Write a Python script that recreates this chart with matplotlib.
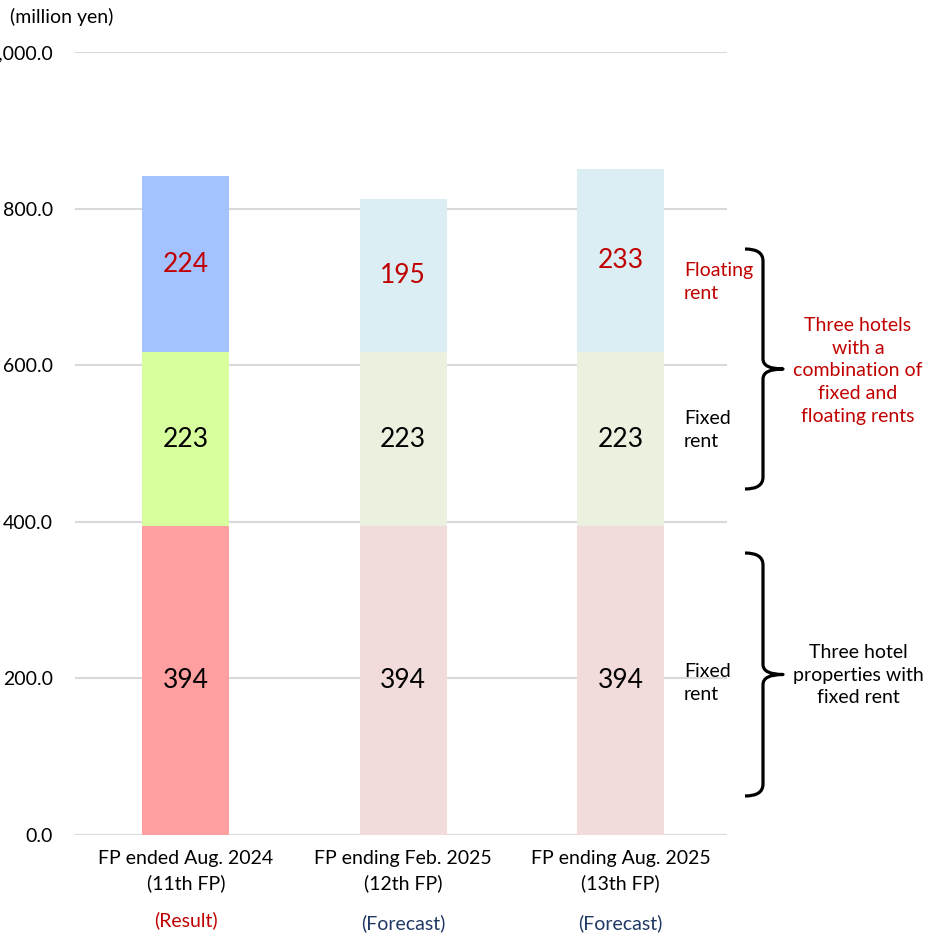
import numpy as np
from matplotlib import pyplot as plt
from matplotlib.path import Path
from matplotlib.patches import PathPatch

# data
periods = ["FP ended Aug. 2024\n(11th FP)", "FP ending Feb. 2025\n(12th FP)", "FP ending Aug. 2025\n(13th FP)"]
status = ["(Result)", "(Forecast)", "(Forecast)"]
fixed_only = [394, 394, 394]      # three hotels with fixed rent
fixed_combo = [223, 223, 223]     # fixed part of combination hotels
floating = [224, 195, 233]        # floating part
yticks = [0, 200, 400, 600, 800, 1000]

W, H = 928, 935
plt.rcParams['font.family'] = ['Lato', 'DejaVu Sans']

fig = plt.figure(figsize=(W / 100, H / 100), dpi=100)
ax = fig.add_axes([75 / W, 1 - 835 / H, (727 - 75) / W, (835 - 52) / H])


def px(x, y):
    return x / W, 1 - y / H


x = np.arange(len(periods))
colors_low = ['#FF9F9F', '#F2DCDB', '#F2DCDB']
colors_mid = ['#D8FF9E', '#EBF1DE', '#EBF1DE']
colors_top = ['#A4C2FF', '#DBEEF4', '#DBEEF4']
w = 0.40
ax.bar(x, fixed_only, w, color=colors_low, zorder=2)
ax.bar(x, fixed_combo, w, bottom=fixed_only, color=colors_mid, zorder=2)
bottom2 = np.array(fixed_only) + np.array(fixed_combo)
ax.bar(x, floating, w, bottom=bottom2, color=colors_top, zorder=2)

for i in range(len(x)):
    ax.text(x[i], fixed_only[i] / 2, str(fixed_only[i]), ha='center', va='center', fontsize=19, color='black', zorder=3)
    ax.text(x[i], fixed_only[i] + fixed_combo[i] / 2, str(fixed_combo[i]), ha='center', va='center', fontsize=19, color='black', zorder=3)
    ax.text(x[i], bottom2[i] + floating[i] / 2, str(floating[i]), ha='center', va='center', fontsize=19, color='#C00000', zorder=3)

ax.set_xlim(-0.51, 2.49)
ax.set_ylim(0, 1000)
ax.set_yticks(yticks)
ax.set_yticklabels([f'{v:,.1f}' for v in yticks], fontsize=14)
ax.tick_params(axis='y', length=0, pad=16)
ax.set_xticks(x)
ax.set_xticklabels(periods, fontsize=14, linespacing=1.45)
ax.tick_params(axis='x', length=0, pad=11)
ax.grid(axis='y', color='#D9D9D9', linewidth=1.5, zorder=0)
for s in ax.spines.values():
    s.set_visible(False)

for i in range(len(x)):
    col = '#C00000' if status[i] == '(Result)' else '#203864'
    xf = (ax.transData.transform((x[i], 0))[0]) / W
    yy = 920 if i == 0 else 923
    fig.text(xf, px(0, yy)[1], status[i], ha='center', va='center', fontsize=14, color=col)

fig.text(*px(10, 17), '(million yen)', ha='left', va='center', fontsize=14)

# side labels
fig.text(*px(684, 282), 'Floating\nrent', ha='left', va='center', fontsize=14, color='#C00000', linespacing=1.45)
fig.text(*px(684, 430), 'Fixed\nrent', ha='left', va='center', fontsize=14, color='black', linespacing=1.45)
fig.text(*px(684, 683), 'Fixed\nrent', ha='left', va='center', fontsize=14, color='black', linespacing=1.45)
fig.text(*px(858, 371), 'Three hotels\nwith a\ncombination of\nfixed and\nfloating rents', ha='center', va='center',
         fontsize=14, color='#C00000', linespacing=1.4)
fig.text(*px(858, 675), 'Three hotel\nproperties with\nfixed rent', ha='center', va='center',
         fontsize=14, color='black', linespacing=1.4)


def brace(top, bot, x0=745, xs=763, xm=783):
    mid = (top + bot) / 2
    verts = [px(x0, top), px(xs, top), px(xs, top + 12),
             px(xs, mid - 10),
             px(xs, mid), px(xm, mid),
             px(xs, mid), px(xs, mid + 10),
             px(xs, bot - 12),
             px(xs, bot), px(x0, bot)]
    codes = [Path.MOVETO, Path.CURVE3, Path.CURVE3,
             Path.LINETO,
             Path.CURVE3, Path.CURVE3,
             Path.CURVE3, Path.CURVE3,
             Path.LINETO,
             Path.CURVE3, Path.CURVE3]
    p = PathPatch(Path(verts, codes), transform=fig.transFigure, fill=False, lw=2.3, color='black',
                  capstyle='butt', joinstyle='round')
    fig.patches.append(p)


brace(249, 489)
brace(553, 796)

fig.savefig('out.png', dpi=100)
